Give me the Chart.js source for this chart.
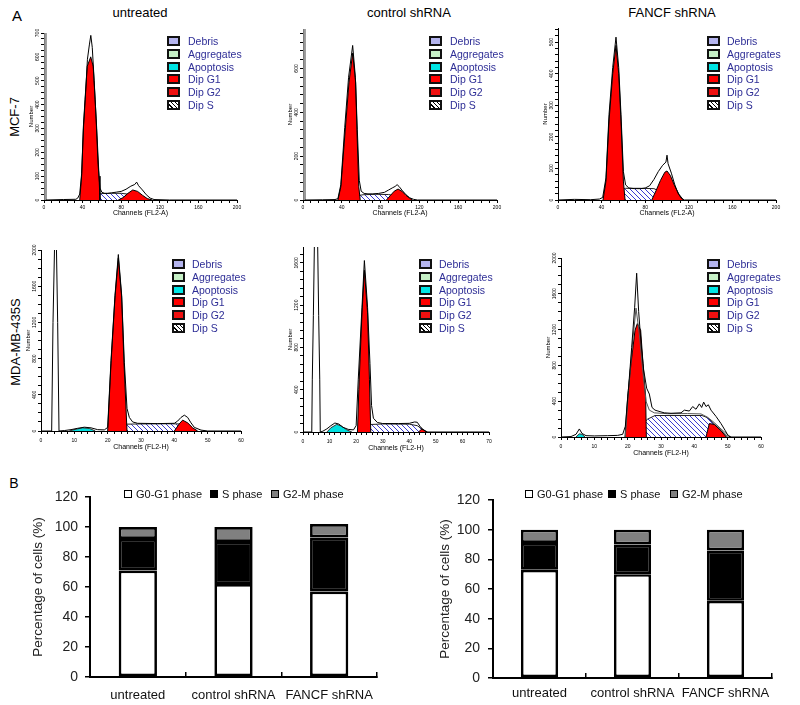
<!DOCTYPE html>
<html>
<head>
<meta charset="utf-8">
<title>FANCF knockdown - cell cycle</title>
<script src="https://cdn.jsdelivr.net/npm/chart.js@4.4.1/dist/chart.umd.min.js"></script>
<style>
  body { margin: 0; background: #fff; }
  #page { position: relative; width: 800px; height: 705px; overflow: hidden;
          font-family: Arial, "Liberation Sans", sans-serif; color: #000; }
  canvas { position: absolute; }
  .txt { position: absolute; white-space: nowrap; transform: translate(-50%, -50%); line-height: 1; }
  .rot { transform: translate(-50%, -50%) rotate(-90deg); }
  .lg-box { position: absolute; width: 13px; height: 10px; box-sizing: border-box; border: 2px solid #111; }
  .lg-txt { position: absolute; font-size: 10.5px; color: #2e2e96; white-space: nowrap; transform: translateY(-50%); line-height: 1; }
  .bl-box { position: absolute; width: 8px; height: 8px; box-sizing: border-box; border: 1px solid #000; }
  .bl-txt { position: absolute; font-size: 11px; color: #111; white-space: nowrap; transform: translateY(-50%); line-height: 1; }
</style>
</head>
<body>
<div id="page">
  <div class="txt" style="left:17px;top:15px;font-size:15px">A</div>
  <div class="txt" style="left:140px;top:12px;font-size:13px">untreated</div>
  <div class="txt" style="left:409px;top:12px;font-size:13px">control shRNA</div>
  <div class="txt" style="left:672px;top:12px;font-size:13px">FANCF shRNA</div>
  <div class="txt rot" style="left:14px;top:117px;font-size:13px">MCF-7</div>
  <div class="txt rot" style="left:15px;top:342px;font-size:13px">MDA-MB-435S</div>
  <div class="txt" style="left:14px;top:483px;font-size:14px">B</div>
</div>
<script>
// ---- Panel A: histogram data, [channel, number] ----
// MCF-7 untreated
const h1Raw = [[2,0],[20,2],[33,3],[35,8],[37,25],[39,110],[41,310],[43,440],[45,590],[47,650],[48.5,690],[50,640],[52,500],[54,340],[56,150],[58,50],[60,32],[63,28],[66,28],[70,30],[75,33],[80,36],[85,45],[90,58],[94,65],[96,75],[98,60],[102,42],[106,22],[110,8],[114,2],[130,0],[200,0]];
const h1G1 = [[37,0],[39,100],[40.7,300],[42.5,420],[44.8,560],[48.4,600],[51,560],[53,420],[54.6,300],[57,100],[58,0]];
const h1S = [[45,0],[52,22],[60,27],[70,28],[80,28],[88,24],[95,15],[102,5],[106,0]];
const h1G2 = [[77,0],[82,10],[87,28],[92,42],[97,36],[102,20],[107,6],[112,0]];
const h1Debris = [[0,0],[0.2,700],[3,700],[3.2,0]];
// MCF-7 control shRNA
const h2Raw = [[2,0],[20,1],[33,2],[36,6],[39,70],[43,330],[47,560],[51.2,705],[54,560],[56,320],[58,90],[60,40],[63,30],[67,28],[72,28],[78,30],[84,35],[88,45],[92,55],[95,62],[97,70],[99,62],[102,45],[106,25],[110,10],[114,3],[118,0],[200,0]];
const h2G1 = [[36,0],[39,60],[43.3,306],[47.4,536],[51.2,670],[54.3,536],[55.7,306],[57.5,60],[59,0]];
const h2S = [[47,0],[54,18],[62,24],[75,26],[88,25],[96,18],[102,8],[107,0]];
const h2G2 = [[86,0],[90,20],[94,40],[98,50],[102,40],[106,22],[110,8],[113,0]];
const h2Debris = [[0,0],[0.2,780],[3,780],[3.2,0]];
// MCF-7 FANCF shRNA
const h3Raw = [[0,0],[15,2],[30,1],[38,3],[41,8],[44,70],[46.8,270],[50.2,420],[53.2,516],[55.7,420],[57.8,270],[60,90],[62,48],[65,38],[70,36],[76,36],[80,38],[84,45],[88,65],[92,90],[96,110],[99,120],[100,142],[101,115],[104,85],[107,50],[110,22],[113,6],[116,0],[200,0]];
const h3G1 = [[41.3,0],[44,60],[46.8,250],[50.2,400],[53.2,490],[55.7,400],[57.8,250],[60,60],[61.5,0]];
const h3S = [[50,0],[56,30],[62,37],[75,37],[88,36],[95,25],[100,12],[104,0]];
const h3G2 = [[86,0],[90,30],[94,62],[98,88],[100,92],[103,78],[107,45],[111,18],[115,0]];
// MDA-MB-435S untreated
const h4Raw = [[0,0],[3.2,0],[3.6,1200],[4.1,2100],[4.6,2100],[5.0,1200],[5.4,0],[7,5],[9,15],[11,30],[13,42],[15,35],[17,15],[19,12],[20,40],[21,780],[22.2,1500],[23.2,1950],[24.2,1500],[25,760],[25.8,250],[26.5,150],[27.5,100],[29,85],[35,82],[40,85],[41,110],[42,150],[43,175],[44,150],[45,90],[46,40],[48,10],[50,0],[60,0]];
const h4G1 = [[20,0],[21,750],[22.2,1480],[23.2,1910],[24.2,1480],[24.9,750],[25.8,0]];
const h4S = [[22.5,0],[24.5,75],[30,78],[38,80],[42,78],[43.5,40],[44.5,0]];
const h4G2 = [[40,0],[41.5,80],[42.5,120],[44,90],[45.5,35],[47,0]];
const h4Apo = [[8.5,0],[10.5,20],[12.5,35],[14.5,28],[16.3,0]];
// MDA-MB-435S control shRNA
const h5Raw = [[0,0],[3.3,0],[3.5,500],[3.9,1100],[4.3,1800],[5.5,1800],[5.9,1100],[6.3,500],[6.5,0],[7.5,8],[9,30],[10.5,60],[12,85],[13.5,75],[15,45],[17,25],[19,20],[20,60],[20.8,500],[22.2,1180],[23.1,1622],[24.3,1180],[25.2,650],[25.8,250],[26.5,130],[28,90],[30,80],[36,80],[40,82],[42,95],[43,92],[44,55],[45.5,15],[47,0],[70,0]];
const h5G1 = [[20.5,0],[21,400],[22.2,1127],[23.1,1530],[24.3,1127],[25,500],[25.5,0]];
const h5S = [[22,0],[24.5,70],[30,76],[40,74],[43,60],[45,25],[46.5,0]];
const h5G2 = [[43.5,0],[44.5,25],[45.5,20],[46.5,0]];
const h5Apo = [[9,0],[10.5,40],[12.7,72],[14.5,55],[16.5,20],[18.4,0]];
// MDA-MB-435S FANCF shRNA
const h6Raw = [[0,0],[3,5],[4.5,30],[5.5,90],[6.3,40],[7.5,15],[10,12],[14,15],[17,18],[18.5,30],[19.3,120],[20.2,520],[21.2,1000],[22.1,1450],[22.7,1830],[23.3,1400],[24,1050],[24.8,750],[25.7,545],[26.5,480],[27.3,330],[28.2,300],[30,280],[31,270],[33,265],[36,270],[37,300],[38.5,290],[39.5,340],[40.5,310],[41.5,370],[42.2,330],[42.8,390],[43.5,340],[44.2,360],[45,300],[46.5,230],[48,150],[49.3,70],[50.2,10],[51,0],[60,0]];
const h6Fit = [[19.3,0],[20.2,480],[21.2,950],[22.5,1440],[23.5,1150],[24.5,750],[25.5,400],[26.5,300],[28,270],[32,260],[38,262],[42,258],[44,220],[46,160],[48,90],[50,25],[51,0]];
const h6G1 = [[19.2,0],[20,449],[21,822],[22.2,1192],[22.9,1267],[23.9,1192],[24.6,822],[25.4,449],[25.6,0]];
const h6S = [[21.5,0],[24,130],[26,200],[28.2,240],[42.3,240],[44,215],[47,110],[50,0]];
const h6G2 = [[43.5,0],[44.5,150],[46,140],[48,70],[49.6,0]];
const h6Apo = [[4.5,0],[5.5,35],[6.3,30],[7.2,0]];

// ---- Panel B: phase percentages ----
const groupLabels = ['untreated', 'control shRNA', 'FANCF shRNA'];
const phaseLabels = ['G0-G1 phase', 'S phase', 'G2-M phase'];
const mcfG1 = [71, 62, 57];
const mcfS = [21, 28, 36];
const mcfG2 = [8, 10, 9];
const mdaG1 = [73, 70, 52];
const mdaS = [18, 20, 34];
const mdaG2 = [9, 10, 14];

const legendNames = ['Debris', 'Aggregates', 'Apoptosis', 'Dip G1', 'Dip G2', 'Dip S'];
const legendFills = ['#b4b4ee', '#c6f0c6', '#00e6e6', '#ff0000', '#f01010',
  'repeating-linear-gradient(45deg, #fff 0 2px, #000 2px 3px)'];

Chart.defaults.font.family = 'Arial, "Liberation Sans", sans-serif';
Chart.defaults.color = '#000';

const page = document.getElementById('page');

function addCanvas(left, top, w, h) {
    const c = document.createElement('canvas');
    c.width = w; c.height = h;
    c.style.left = left + 'px'; c.style.top = top + 'px';
    page.appendChild(c);
    return c;
}

// blue diagonal hatch used for the S phase fill
function hatchPattern() {
    const p = document.createElement('canvas');
    p.width = 5; p.height = 5;
    const g = p.getContext('2d');
    g.fillStyle = '#fff';
    g.fillRect(0, 0, 5, 5);
    g.strokeStyle = '#3a3ad0';
    g.lineWidth = 1;
    g.beginPath();
    g.moveTo(-1, -1); g.lineTo(6, 6);
    g.moveTo(-1, 4); g.lineTo(1, 6);
    g.moveTo(4, -1); g.lineTo(6, 1);
    g.stroke();
    return g.createPattern(p, 'repeat');
}
const hatch = hatchPattern();

const pts = arr => arr.map(([x, y]) => ({ x, y }));

function minorTicks(max, step) {
    const t = [];
    for (let v = 0; v <= max + 1e-9; v += step) t.push({ value: v });
    return t;
}

// y tick labels in the histograms are rotated, Chart.js only rotates x labels
function rotatedYLabels(step) {
    return {
        id: 'rotatedYLabels',
        afterDraw(chart) {
            const s = chart.scales.y;
            const ctx = chart.ctx;
            ctx.save();
            ctx.fillStyle = '#000';
            ctx.font = '5px Arial, "Liberation Sans", sans-serif';
            ctx.textAlign = 'center';
            ctx.textBaseline = 'middle';
            for (let v = 0; v <= s.max; v += step) {
                ctx.save();
                ctx.translate(s.right - 6, s.getPixelForValue(v));
                ctx.rotate(-Math.PI / 2);
                ctx.fillText(String(v), 0, 0);
                ctx.restore();
            }
            ctx.restore();
        }
    };
}

function line(data, opts) {
    return Object.assign({ data: pts(data), borderColor: '#000', borderWidth: 1,
        pointRadius: 0, tension: 0, fill: false }, opts);
}

function makeHist(cfg, s) {
    const [aL, aT, aR, aB] = cfg.area;
    const canvas = addCanvas(aL - 40, aT - 6, aR - aL + 50, aB - aT + 31);
    const datasets = [line(s.raw, {})];
    if (s.fit) datasets.push(line(s.fit, { borderColor: '#555' }));
    datasets.push(line(s.g1, { backgroundColor: '#ff0000', fill: 'origin' }));
    datasets.push(line(s.g2, { backgroundColor: '#ff0000', fill: 'origin' }));
    datasets.push(line(s.s, { backgroundColor: hatch, fill: 'origin', borderColor: '#222' }));
    if (s.apo) datasets.push(line(s.apo, { backgroundColor: '#00e0e0', fill: 'origin', borderColor: '#333' }));
    if (s.debris) datasets.push(line(s.debris, { backgroundColor: '#999', fill: 'origin', borderWidth: 0 }));

    const row2 = cfg.row === 2;
    new Chart(canvas.getContext('2d'), {
        type: 'line',
        data: { datasets },
        options: {
            responsive: false,
            animation: false,
            layout: { padding: { top: 6, right: 10, left: 0, bottom: 0 } },
            plugins: { legend: { display: false }, tooltip: { enabled: false } },
            scales: {
                x: {
                    type: 'linear', min: 0, max: cfg.xMax,
                    afterBuildTicks: sc => { sc.ticks = minorTicks(cfg.xMax, cfg.xMinor); },
                    afterFit: sc => { sc.height = 25; },
                    ticks: { autoSkip: false, maxRotation: 0, font: { size: 5 }, padding: row2 ? 4 : 2,
                             callback: v => (v % cfg.xStep === 0 ? v : '') },
                    grid: { drawOnChartArea: false, tickLength: 3, color: '#000' },
                    border: { color: '#000', width: 1 },
                    title: { display: true, text: cfg.xTitle, font: { size: 7 },
                             padding: { top: 0, bottom: row2 ? 4.8 : 7.8 } }
                },
                y: {
                    type: 'linear', min: 0, max: cfg.yMax,
                    afterBuildTicks: sc => { sc.ticks = minorTicks(cfg.yMax, cfg.yMinor); },
                    afterFit: sc => { sc.width = 40; },
                    ticks: { display: false },
                    grid: { drawOnChartArea: false, tickLength: 3, color: '#000' },
                    border: { color: '#000', width: 1 },
                    title: { display: true, text: 'Number', font: { size: 6 }, padding: { top: 23.4, bottom: 0 } }
                }
            }
        },
        plugins: [rotatedYLabels(cfg.yStep)]
    });

    // legend as plain text boxes, top right of each histogram
    legendNames.forEach((name, i) => {
        const y = cfg.legend[2] + i * 12.8;
        const b = document.createElement('div');
        b.className = 'lg-box';
        b.style.left = cfg.legend[0] + 'px';
        b.style.top = (y - 5) + 'px';
        b.style.background = legendFills[i];
        page.appendChild(b);
        const t = document.createElement('div');
        t.className = 'lg-txt';
        t.style.left = cfg.legend[1] + 'px';
        t.style.top = y + 'px';
        t.textContent = name;
        page.appendChild(t);
    });
}

const histCfg = [
    { area: [44, 33, 237, 200], xMax: 200, xStep: 40, xMinor: 8, yMax: 700, yStep: 100, yMinor: 25, xTitle: 'Channels (FL2-A)', row: 1, legend: [167, 188, 41] },
    { area: [303, 29, 497, 200], xMax: 200, xStep: 40, xMinor: 8, yMax: 780, yStep: 200, yMinor: 40, xTitle: 'Channels (FL2-A)', row: 1, legend: [429, 450, 41] },
    { area: [558, 28, 776, 200], xMax: 200, xStep: 40, xMinor: 8, yMax: 545, yStep: 100, yMinor: 20, xTitle: 'Channels (FL2-A)', row: 1, legend: [707, 727, 41] },
    { area: [41, 250, 241, 431], xMax: 60, xStep: 10, xMinor: 2, yMax: 2000, yStep: 400, yMinor: 100, xTitle: 'Channels (FL2-H)', row: 2, legend: [172, 192, 264] },
    { area: [303, 247, 489, 432], xMax: 70, xStep: 10, xMinor: 2, yMax: 1750, yStep: 400, yMinor: 80, xTitle: 'Channels (FL2-H)', row: 2, legend: [419, 439, 264] },
    { area: [561, 258, 761, 437], xMax: 60, xStep: 10, xMinor: 2, yMax: 2000, yStep: 400, yMinor: 100, xTitle: 'Channels (FL2-H)', row: 2, legend: [707, 727, 264] }
];
const histSeries = [
    { raw: h1Raw, g1: h1G1, g2: h1G2, s: h1S, debris: h1Debris },
    { raw: h2Raw, g1: h2G1, g2: h2G2, s: h2S, debris: h2Debris },
    { raw: h3Raw, g1: h3G1, g2: h3G2, s: h3S },
    { raw: h4Raw, g1: h4G1, g2: h4G2, s: h4S, apo: h4Apo },
    { raw: h5Raw, g1: h5G1, g2: h5G2, s: h5S, apo: h5Apo },
    { raw: h6Raw, fit: h6Fit, g1: h6G1, g2: h6G2, s: h6S, apo: h6Apo }
];
histCfg.forEach((cfg, i) => makeHist(cfg, histSeries[i]));

// ---- Panel B stacked bars ----
function makeBars(box, g1, s, g2) {
    const canvas = addCanvas(box.left, 480, 400, 225);
    const bar = (label, data, color) => ({
        label, data, backgroundColor: color, borderColor: '#000', borderWidth: 2.7,
        borderSkipped: false, barPercentage: 0.4, categoryPercentage: 1
    });
    new Chart(canvas.getContext('2d'), {
        type: 'bar',
        data: {
            labels: groupLabels,
            datasets: [bar(phaseLabels[0], g1, '#fff'), bar(phaseLabels[1], s, '#000'), bar(phaseLabels[2], g2, '#808080')]
        },
        options: {
            responsive: false,
            animation: false,
            layout: { padding: { top: box.padTop, right: box.padRight, left: 0, bottom: 0 } },
            plugins: { legend: { display: false }, tooltip: { enabled: false } },
            scales: {
                x: {
                    stacked: true,
                    afterFit: sc => { sc.height = box.xHeight; },
                    ticks: { font: { size: 13 }, color: '#111', padding: box.labelPad,
                             autoSkip: false, minRotation: 0, maxRotation: 0 },
                    grid: { offset: true, drawOnChartArea: false, tickLength: -5, color: '#000', lineWidth: 1.5 },
                    border: { color: '#000', width: 2 }
                },
                y: {
                    stacked: true, min: 0, max: 120,
                    afterFit: sc => { sc.width = box.yWidth; },
                    ticks: { stepSize: 20, font: { size: 14 }, color: '#222', padding: box.tickPad },
                    grid: { drawOnChartArea: false, tickLength: 5, color: '#000', lineWidth: 1.5 },
                    border: { color: '#000', width: 2 },
                    title: { display: true, text: 'Percentage of cells (%)', font: { size: 13.5 }, color: '#222',
                             padding: { top: box.titlePad, bottom: 0 } }
                }
            }
        }
    });

    // legend row above the bars
    const fills = ['#fff', '#000', '#808080'];
    phaseLabels.forEach((name, i) => {
        const b = document.createElement('div');
        b.className = 'bl-box';
        b.style.left = box.legend[i] + 'px';
        b.style.top = '490px';
        b.style.background = fills[i];
        page.appendChild(b);
        const t = document.createElement('div');
        t.className = 'bl-txt';
        t.style.left = (box.legend[i] + 12) + 'px';
        t.style.top = '494px';
        t.textContent = name;
        page.appendChild(t);
    });
}

makeBars({ left: 0, padTop: 17, padRight: 23, yWidth: 90, xHeight: 28, labelPad: 16, tickPad: 7, titlePad: 30,
           legend: [124, 210, 271] }, mcfG1, mcfS, mcfG2);
makeBars({ left: 400, padTop: 20, padRight: 28, yWidth: 93, xHeight: 27, labelPad: 13, tickPad: 8, titlePad: 37,
           legend: [525, 608, 670] }, mdaG1, mdaS, mdaG2);
</script>
</body>
</html>
